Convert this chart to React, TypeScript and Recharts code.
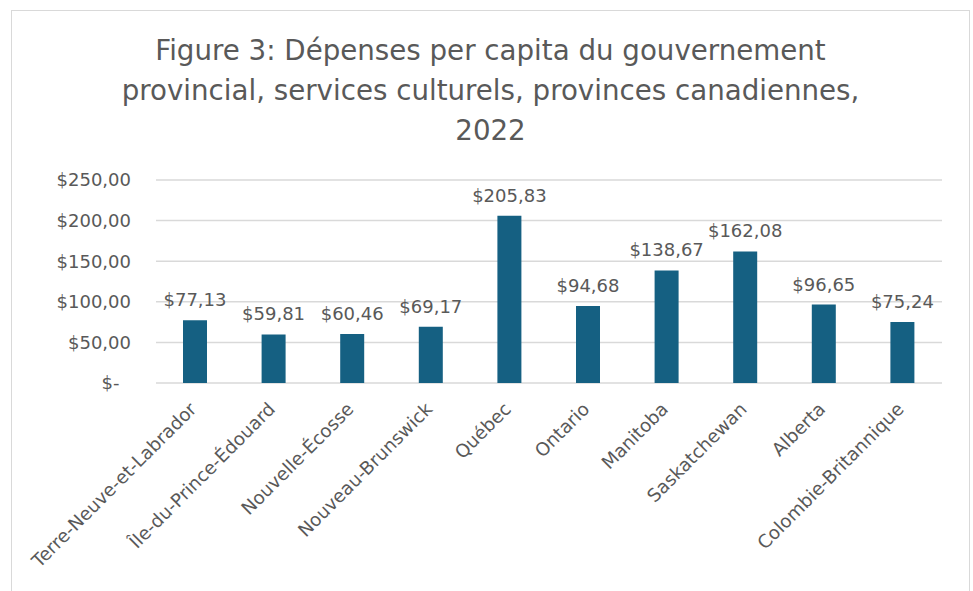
import { BarChart, Bar, XAxis, YAxis, CartesianGrid, LabelList } from 'recharts';

const provinces = [
  'Terre-Neuve-et-Labrador',
  'Île-du-Prince-Édouard',
  'Nouvelle-Écosse',
  'Nouveau-Brunswick',
  'Québec',
  'Ontario',
  'Manitoba',
  'Saskatchewan',
  'Alberta',
  'Colombie-Britannique',
];
const spending = [77.13, 59.81, 60.46, 69.17, 205.83, 94.68, 138.67, 162.08, 96.65, 75.24];
const yTicks = [0, 50, 100, 150, 200, 250];

const data = provinces.map((name, i) => ({ name, value: spending[i] }));

const FONT = '"DejaVu Sans", sans-serif';
const GREY = '#595959';

const money = (v: number) => (v === 0 ? '$-\u00A0\u00A0' : `$${v.toFixed(2).replace('.', ',')}`);

function CategoryTick(props: any) {
  const { x, y, payload } = props;
  return (
    <g transform={`translate(${x - 7},${y})`}>
      <text
        transform="rotate(-45)"
        textAnchor="end"
        dy="0.72em"
        fill={GREY}
        fontSize={18.3}
        fontFamily={FONT}
      >
        {payload.value}
      </text>
    </g>
  );
}

export default function App() {
  return (
    <div
      style={{
        position: 'absolute',
        left: 11,
        top: 10,
        width: 957,
        height: 580,
        border: '1px solid #d9d9d9',
        borderBottom: 'none',
        background: '#fff',
      }}
    >
      <div
        style={{
          position: 'absolute',
          left: 0,
          top: 20,
          width: 957,
          textAlign: 'center',
          fontFamily: FONT,
          fontSize: 27.7,
          lineHeight: '40px',
          color: GREY,
        }}
      >
        Figure 3: Dépenses per capita du gouvernement
        <br />
        provincial, services culturels, provinces canadiennes,
        <br />
        2022
      </div>
      <div style={{ position: 'absolute', left: 0, top: 0 }}>
        <BarChart
          width={957}
          height={579}
          data={data}
          margin={{ top: 169, right: 27, bottom: 7, left: 0 }}
        >
          <CartesianGrid vertical={false} stroke="#d9d9d9" strokeWidth={1.5} />
          <XAxis
            dataKey="name"
            axisLine={false}
            tickLine={false}
            tickSize={0}
            tickMargin={18}
            height={200}
            interval={0}
            tick={<CategoryTick />}
          />
          <YAxis
            domain={[0, 250]}
            ticks={yTicks}
            width={144}
            axisLine={false}
            tickLine={false}
            tickSize={0}
            tickMargin={25}
            tickFormatter={money}
            tick={{ fill: GREY, fontSize: 18, fontFamily: FONT }}
          />
          <Bar dataKey="value" fill="#156082" barSize={24} isAnimationActive={false}>
            <LabelList
              dataKey="value"
              position="top"
              offset={14}
              formatter={(v: any) => money(Number(v))}
              fill={GREY}
              fontSize={18}
              fontFamily={FONT}
            />
          </Bar>
        </BarChart>
      </div>
    </div>
  );
}
